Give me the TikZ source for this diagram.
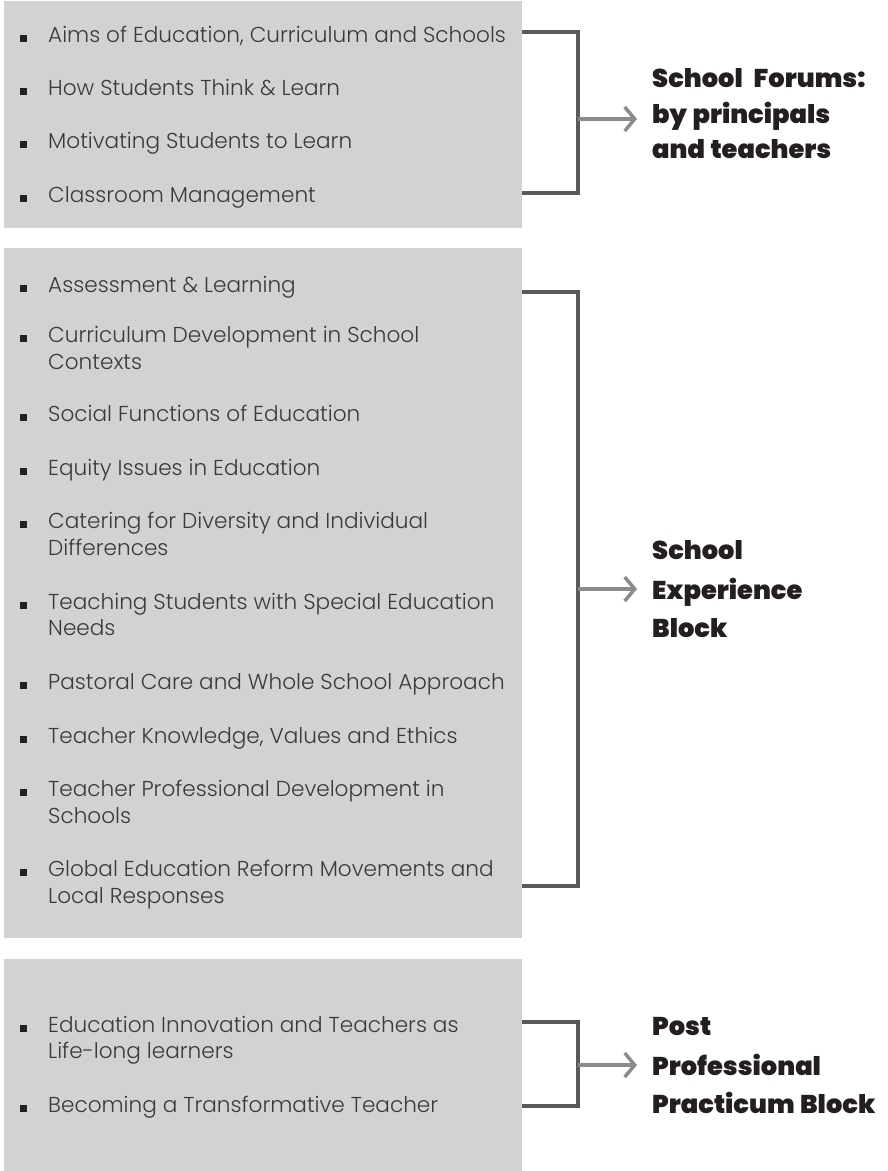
\documentclass[tikz,border=0pt]{standalone}
\usepackage{fontspec}
\usetikzlibrary{arrows.meta}
\newfontfamily\bodyf{Poppins Light}
\newfontfamily\heavyf[WordSpace=1.25]{Poppins Black}
\definecolor{boxgray}{HTML}{D1D2D4}
\definecolor{brk}{HTML}{58595B}
\definecolor{arr}{HTML}{8A8B8D}
\definecolor{txt}{HTML}{3A3A3B}
\definecolor{hd}{HTML}{231F20}
\tikzset{
  panel/.style={fill=boxgray, draw=none, inner sep=0, anchor=north west},
  bul/.style={fill=hd, draw=none, inner sep=0, minimum size=7pt},
  itemtext/.style={anchor=base west, inner sep=0, text=txt, font=\bodyf\fontsize{21.6}{26}\selectfont},
  headtext/.style={anchor=base west, inner sep=0, text=hd, font=\heavyf\fontsize{25.7}{30}\selectfont},
  bracket/.style={draw=brk, line width=4pt, line join=miter},
  arrowline/.style={draw=arr, line width=3.5pt, -{Straight Barb[length=10pt,width=24pt]}}
}
\newcommand\itm[3]{\node[bul] (#1b) at (23.5,#2-3.8) {};\node[itemtext] (#1) at (48,#2) {#3};}
\newcommand\cont[3]{\node[itemtext] (#1) at (48,#2) {#3};}
\begin{document}
\begin{tikzpicture}[x=1pt,y=-1pt]
\useasboundingbox (0,0) rectangle (887,1171);
% panels
\node[panel, minimum width=518pt, minimum height=227pt] (p1) at (4,1) {};
\node[panel, minimum width=518pt, minimum height=690pt] (p2) at (4,248) {};
\node[panel, minimum width=518pt, minimum height=212pt] (p3) at (4,959) {};
% block 1 items
\itm{a1}{42}{Aims of Education, Curriculum and Schools}
\itm{a2}{95}{How Students Think \& Learn}
\itm{a3}{148}{Motivating Students to Learn}
\itm{a4}{202}{Classroom Management}
% block 2 items
\itm{b1}{292}{Assessment \& Learning}
\itm{b2}{342}{Curriculum Development in School}
\cont{b2c}{369}{Contexts}
\itm{b3}{421}{Social Functions of Education}
\itm{b4}{475}{Equity Issues in Education}
\itm{b5}{528}{Catering for Diversity and Individual}
\cont{b5c}{555}{Differences}
\itm{b6}{609}{Teaching Students with Special Education}
\cont{b6c}{635}{Needs}
\itm{b7}{689}{Pastoral Care and Whole School Approach}
\itm{b8}{743}{Teacher Knowledge, Values and Ethics}
\itm{b9}{796}{Teacher Professional Development in}
\cont{b9c}{823}{Schools}
\itm{b10}{876}{Global Education Reform Movements and}
\cont{b10c}{903}{Local Responses}
% block 3 items
\itm{c1}{1032}{Education Innovation and Teachers as}
\cont{c1c}{1058}{Life-long learners}
\itm{c2}{1112}{Becoming a Transformative Teacher}
% headings
\node[headtext] (h1a) at (652,87) {School\ \ Forums:};
\node[headtext] (h1b) at (652,123) {by principals};
\node[headtext] (h1c) at (652,158) {and teachers};
\node[headtext] (h2a) at (652,559) {School};
\node[headtext] (h2b) at (652,599) {Experience};
\node[headtext] (h2c) at (652,637) {Block};
\node[headtext] (h3a) at (652,1035) {Post};
\node[headtext] (h3b) at (652,1075) {Professional};
\node[headtext] (h3c) at (652,1113) {Practicum Block};
% brackets
\coordinate (t1) at (p1.east |- 0,32);
\coordinate (m1) at (578,119);
\coordinate (e1) at (p1.east |- 0,193);
\coordinate (x1) at (637,119);
\draw[bracket] (t1) -| (m1) |- (e1);
\draw[arrowline] (m1) -- (x1);
\coordinate (t2) at (p2.east |- 0,292);
\coordinate (m2) at (578,589);
\coordinate (e2) at (p2.east |- 0,886);
\coordinate (x2) at (637,589);
\draw[bracket] (t2) -| (m2) |- (e2);
\draw[arrowline] (m2) -- (x2);
\coordinate (t3) at (p3.east |- 0,1022);
\coordinate (m3) at (578,1065);
\coordinate (e3) at (p3.east |- 0,1106);
\coordinate (x3) at (637,1065);
\draw[bracket] (t3) -| (m3) |- (e3);
\draw[arrowline] (m3) -- (x3);
\end{tikzpicture}
\end{document}
